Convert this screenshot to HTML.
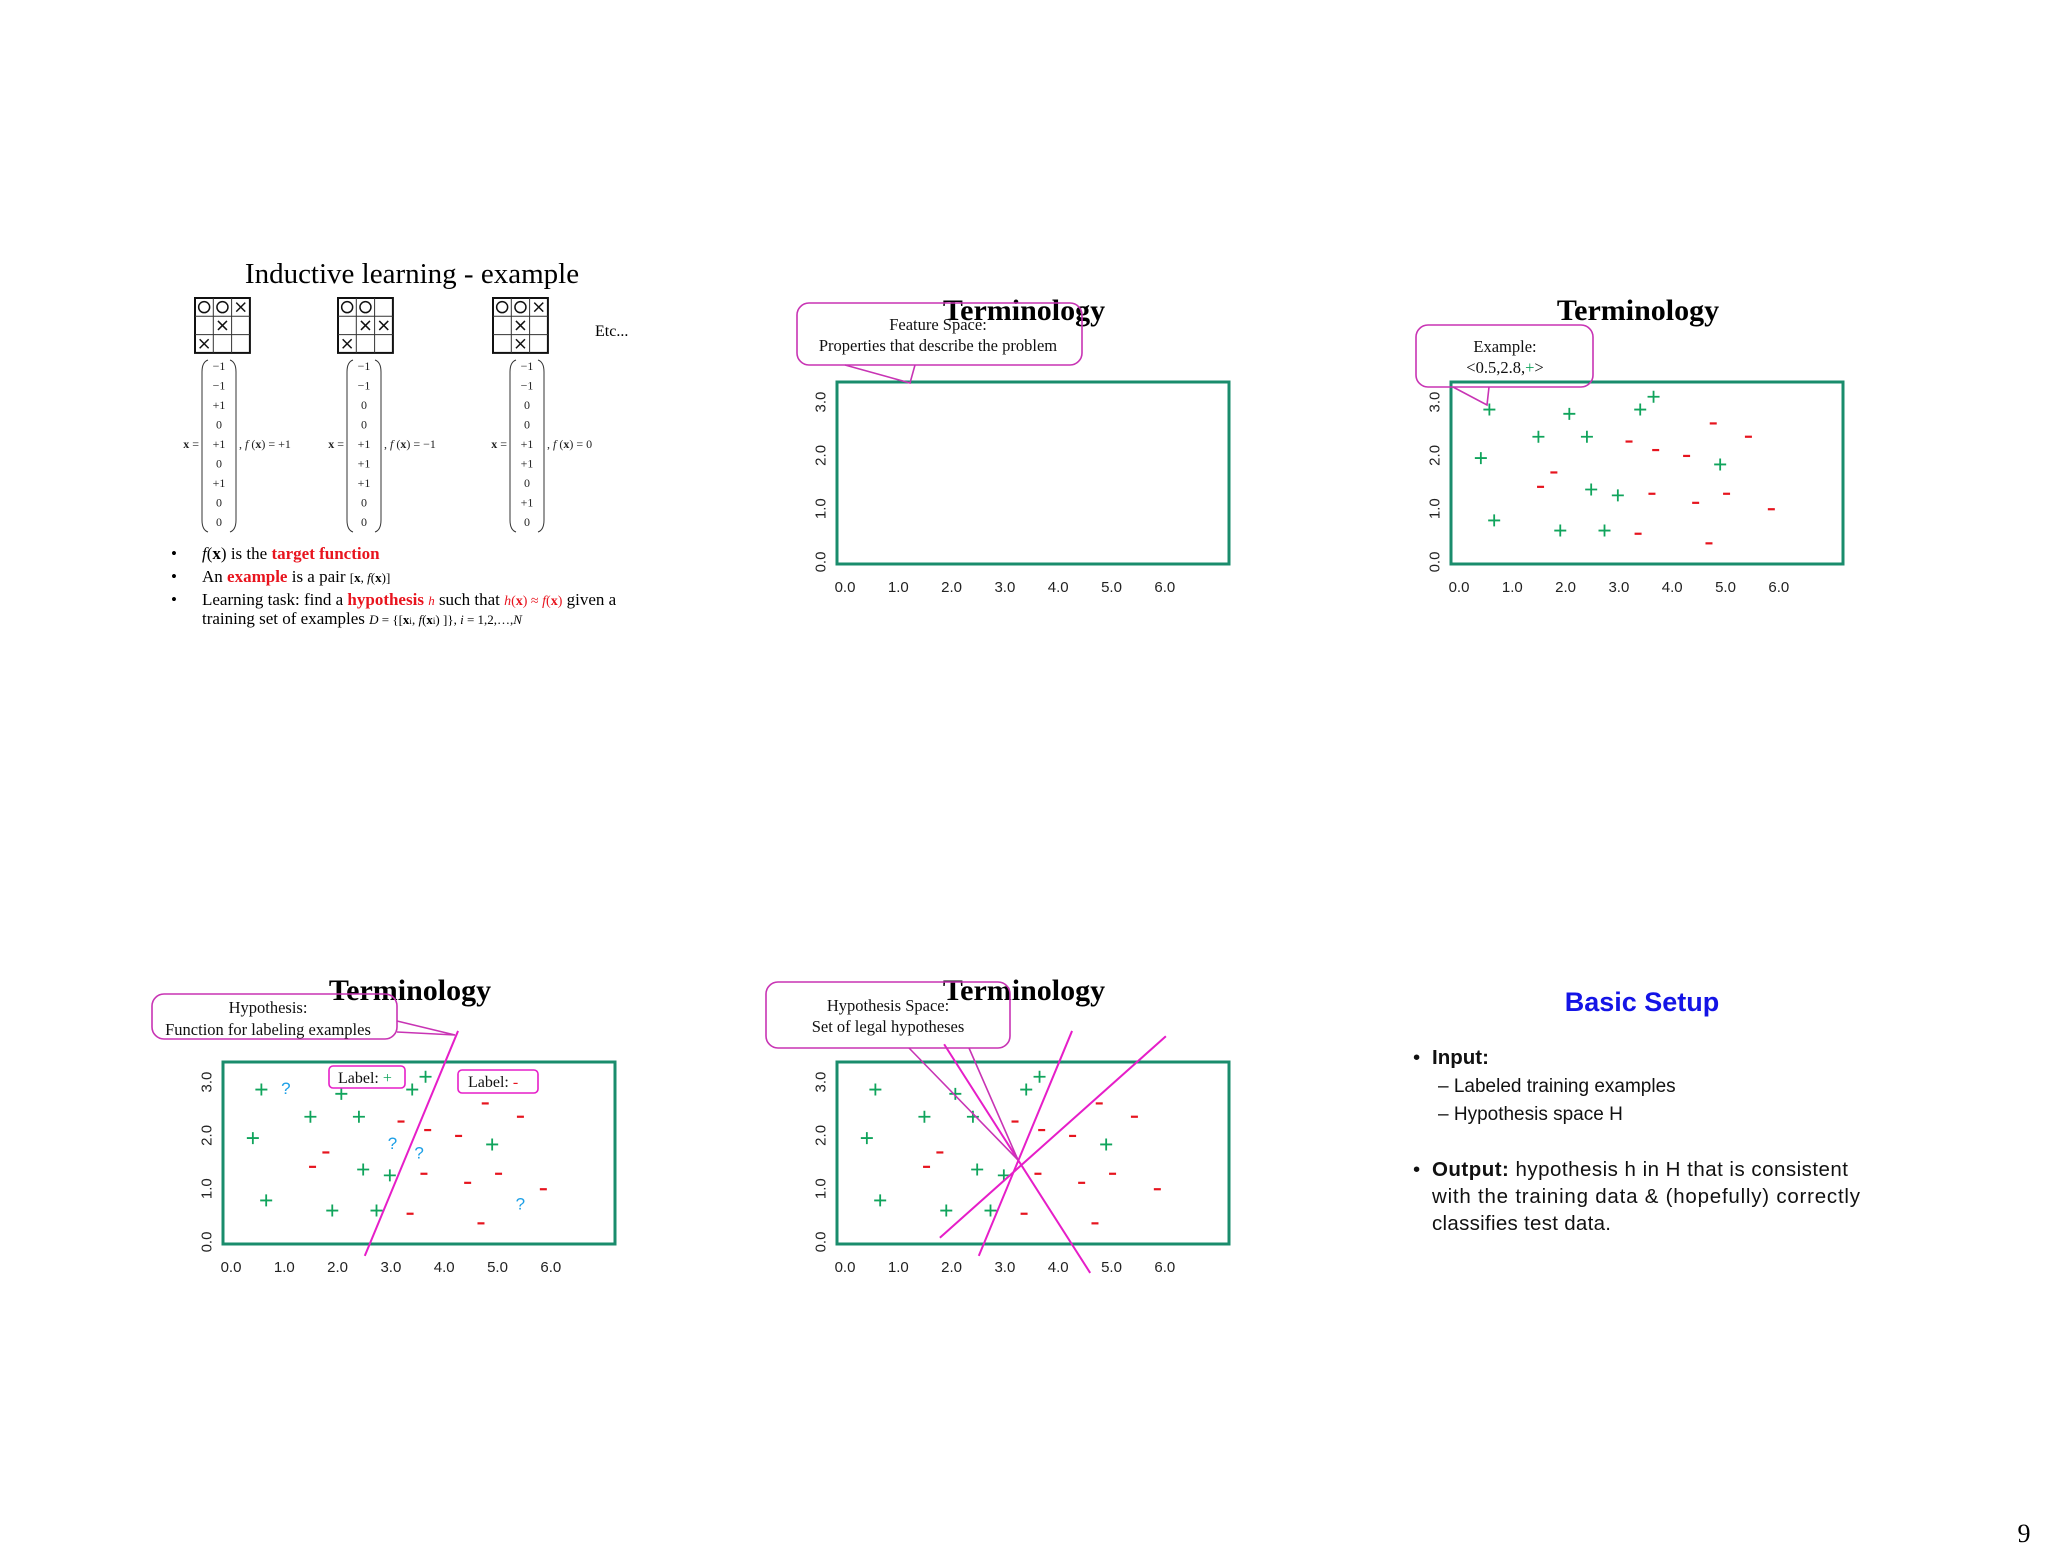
<!DOCTYPE html>
<html><head><meta charset="utf-8"><style>
html,body{margin:0;padding:0;background:#fff;}
svg{display:block;}
.tk{font-family:"Liberation Sans",sans-serif;font-size:15px;fill:#222;}
.ser{font-family:"Liberation Serif",serif;}
.ttl{font-family:"Liberation Serif",serif;font-weight:bold;font-size:30px;fill:#000;}
.cal{font-family:"Liberation Sans",sans-serif;}
</style></head><body>
<svg id="s" width="2048" height="1560" viewBox="0 0 2048 1560" xmlns="http://www.w3.org/2000/svg">
<rect width="2048" height="1560" fill="#fff"/>

<!-- Panel 1 -->
<g>
<text x="412" y="283" text-anchor="middle" class="ser" font-size="29">Inductive learning - example</text>
<g id="boards"></g>
<g id="vecs"></g>
<text x="595" y="336" class="ser" font-size="16">Etc...</text>
<g class="ser" font-size="17">
<text x="171" y="559">•</text><text x="202" y="559"><tspan font-style="italic">f</tspan>(<tspan font-weight="bold">x</tspan>) is the <tspan fill="#e8141e" font-weight="bold">target function</tspan></text>
<text x="171" y="582">•</text><text x="202" y="582">An <tspan fill="#e8141e" font-weight="bold">example</tspan> is a pair <tspan font-size="13">[<tspan font-weight="bold">x</tspan>, <tspan font-style="italic">f</tspan>(<tspan font-weight="bold">x</tspan>)]</tspan></text>
<text x="171" y="605">•</text><text x="202" y="605">Learning task: find a <tspan fill="#e8141e" font-weight="bold">hypothesis</tspan> <tspan fill="#e8141e" font-style="italic" font-size="13">h</tspan> such that <tspan fill="#e8141e" font-size="14"><tspan font-style="italic">h</tspan>(<tspan font-weight="bold">x</tspan>) ≈ <tspan font-style="italic">f</tspan>(<tspan font-weight="bold">x</tspan>)</tspan> given a</text>
<text x="202" y="624">training set of examples <tspan font-size="13"><tspan font-style="italic">D</tspan> = {[<tspan font-weight="bold">x</tspan><tspan font-size="9">i</tspan>, <tspan font-style="italic">f</tspan>(<tspan font-weight="bold">x</tspan><tspan font-size="9">i</tspan>) ]}, <tspan font-style="italic">i</tspan> = 1,2,…,<tspan font-style="italic">N</tspan></tspan></text>
</g>
</g>

<g id="plots"></g>

<!-- Panel 6 -->
<g class="cal">
<text x="1642" y="1011" text-anchor="middle" font-size="27" font-weight="bold" fill="#1414e6">Basic Setup</text>
<g font-size="20.5" fill="#111">
<text x="1413" y="1064">•</text><text x="1432" y="1064" font-weight="bold">Input:</text>
<text x="1438" y="1092" font-size="19">– Labeled training examples</text>
<text x="1438" y="1120" font-size="19">– Hypothesis space H</text>
<text x="1413" y="1176">•</text><text x="1432" y="1176" textLength="416"><tspan font-weight="bold">Output:</tspan> hypothesis h in H that is consistent</text>
<text x="1432" y="1203" textLength="428">with the training data &amp; (hopefully) correctly</text>
<text x="1432" y="1230" textLength="179">classifies test data.</text>
</g>
</g>
<text x="2024" y="1542" text-anchor="middle" class="ser" font-size="26">9</text>
</svg>
<script>
// ---- data ----
const plusX = [0.57,0.41,0.66,1.49,2.07,2.40,1.90,2.48,2.73,2.98,3.40,3.65,4.90];
const plusY = [2.86,1.95,0.78,2.35,2.78,2.35,0.59,1.36,0.59,1.25,2.86,3.10,1.83];
const minusX = [4.77,5.43,3.19,3.69,4.27,1.78,1.53,3.62,4.44,5.02,5.86,3.36,4.69];
const minusY = [2.60,2.35,2.26,2.10,1.99,1.68,1.41,1.28,1.11,1.28,0.99,0.53,0.35];
const queryX = [1.03,3.03,3.53,5.43];
const queryY = [2.89,1.86,1.68,0.72];
const xTicks = ["0.0","1.0","2.0","3.0","4.0","5.0","6.0"];
const yTicks = ["0.0","1.0","2.0","3.0"];
const hypX1 = [4.26,1.86,6.02];
const hypY1 = [3.96,3.71,3.86];
const hypX2 = [2.51,4.60,1.78];
const hypY2 = [-0.26,-0.58,0.08];
const boardCells = [["O","O","X","","X","","X","",""],["O","O","","","X","X","X","",""],["O","O","X","","X","","","X",""]];
const vecVals = [["−1","−1","+1","0","+1","0","+1","0","0"],["−1","−1","0","0","+1","+1","+1","0","0"],["−1","−1","0","0","+1","+1","0","+1","0"]];
const fVals = ["+1","−1","0"];

const NS="http://www.w3.org/2000/svg";
const svg=document.getElementById('s');
const plots=document.getElementById('plots');
function mk(tag,attrs,parent,text){const e=document.createElementNS(NS,tag);for(const k in attrs)e.setAttribute(k,attrs[k]);if(text!==undefined)e.textContent=text;(parent||svg).appendChild(e);return e;}
const U=53.3;
const MAG="#e61ec8";

function panel(x0,y0,opts){
  const g=mk('g',{},plots);
  
  
  const sx=v=>x0+v*U, sy=v=>y0-v*U;
  const box=mk('rect',{x:x0-8,y:y0-180,width:392,height:182,fill:'none',stroke:'#1a8c6c','stroke-width':3},g);
  
  
  xTicks.forEach((t,i)=>{const e=mk('text',{x:sx(i),y:y0+30,'text-anchor':'middle',class:'tk'},g,t);
    
    });
  yTicks.forEach((t,i)=>{const e=mk('text',{x:0,y:0,'text-anchor':'middle','dominant-baseline':'central',class:'tk',transform:`translate(${x0-24},${sy(i)}) rotate(-90)`},g,t);
    
    });
  if(opts.points){
    plusX.forEach((v,i)=>{const p=mk('path',{d:`M${sx(v)-6} ${sy(plusY[i])}h12M${sx(v)} ${sy(plusY[i])-6}v12`,stroke:'#10a45c','stroke-width':1.8},g);
      
      });
    minusX.forEach((v,i)=>{const p=mk('path',{d:`M${sx(v)-3.5} ${sy(minusY[i])}h7`,stroke:'#e6141e','stroke-width':2.2},g);
      
      });
  }
  if(opts.queries){
    queryX.forEach((v,i)=>{const e=mk('text',{x:sx(v),y:sy(queryY[i])+6,'text-anchor':'middle',class:'cal','font-size':17,fill:'#1ea0e6'},g,'?');
      
      });
  }
  if(opts.lines){
    opts.lines.forEach(i=>{const l=mk('line',{x1:sx(hypX1[i]),y1:sy(hypY1[i]),x2:sx(hypX2[i]),y2:sy(hypY2[i]),stroke:MAG,'stroke-width':2},g);
      
      });
  }
  const t=mk('text',{x:opts.tx,y:opts.ty,'text-anchor':'middle',class:'ttl'},g,'Terminology');
  
  
  return g;
}
function callout(g,x,y,w,h,tail,lines,cx,ys,name){
  const r=12;
  const c=mk('g',{},g);
  
  
  mk('rect',{x:x,y:y,width:w,height:h,rx:r,fill:'none',stroke:'#c834b4','stroke-width':1.6},c);
  mk('polyline',{points:tail,fill:'none',stroke:'#c834b4','stroke-width':1.6},c);
  lines.forEach((l,i)=>{mk('text',{x:cx,y:ys[i],'text-anchor':'middle',class:'ser','font-size':16.5,fill:'#111'},c,l);});
  return c;
}

// Panel 2
const p2=panel(845,562,{name:'feature-space-panel',tx:1024,ty:320});
callout(p2,797,303,285,62,"845,365 910,383 915,365",["Feature Space:","Properties that describe the problem"],938,[330,351],'feature-space-callout');
// Panel 3
const p3=panel(1459,562,{name:'example-panel',points:true,tx:1638,ty:320});
const c3=callout(p3,1416,325,177,62,"1453,387 1487,405 1489,387",["Example:",""],1505,[352,373],'example-callout');
const et=c3.querySelectorAll('text')[1];
et.innerHTML='&lt;0.5,2.8,<tspan fill="#10a45c">+</tspan>&gt;';
// Panel 4
const p4=panel(231,1242,{name:'hypothesis-panel',points:true,queries:true,lines:[0],tx:410,ty:1000});
callout(p4,152,994,245,45,"397,1021 455,1035 397,1032",["Hypothesis:","Function for labeling examples"],268,[1013,1035],'hypothesis-callout');
const l1=mk('g',{},p4);


mk('rect',{x:329,y:1066,width:76,height:22,rx:4,fill:'#fff',stroke:MAG,'stroke-width':1.6},l1);
const lt1=mk('text',{x:338,y:1083,class:'ser','font-size':16,fill:'#111'},l1,'');
lt1.innerHTML='Label: <tspan fill="#10a45c">+</tspan>';
const l2=mk('g',{},p4);


mk('rect',{x:458,y:1070,width:80,height:23,rx:4,fill:'#fff',stroke:MAG,'stroke-width':1.6},l2);
const lt2=mk('text',{x:468,y:1087,class:'ser','font-size':16,fill:'#111'},l2,'');
lt2.innerHTML='Label:  <tspan fill="#e6141e">-</tspan>';
// Panel 5
const p5=panel(845,1242,{name:'hypothesis-space-panel',points:true,lines:[0,1,2],tx:1024,ty:1000});
callout(p5,766,982,244,66,"909,1048 1018,1160 969,1048",["Hypothesis Space:","Set of legal hypotheses"],888,[1011,1032],'hypothesis-space-callout');

// Panel 1 boards
const bg=document.getElementById('boards');
[195,338,493].forEach((bx,b)=>{
  const g=mk('g',{},bg);
  
  
  const by=298,cs=18.3;
  mk('rect',{x:bx,y:by,width:cs*3,height:cs*3,fill:'#fff',stroke:'#111','stroke-width':2},g);
  for(let k=1;k<3;k++){mk('line',{x1:bx+k*cs,y1:by,x2:bx+k*cs,y2:by+3*cs,stroke:'#333','stroke-width':1},g);mk('line',{x1:bx,y1:by+k*cs,x2:bx+3*cs,y2:by+k*cs,stroke:'#333','stroke-width':1},g);}
  boardCells[b].forEach((c,i)=>{const cx=bx+(i%3+0.5)*cs,cy=by+(Math.floor(i/3)+0.5)*cs;
    if(c==='O')mk('circle',{cx:cx,cy:cy,r:5.5,fill:'none',stroke:'#111','stroke-width':1.5},g);
    if(c==='X')mk('path',{d:`M${cx-4.5} ${cy-4.5}L${cx+4.5} ${cy+4.5}M${cx+4.5} ${cy-4.5}L${cx-4.5} ${cy+4.5}`,stroke:'#111','stroke-width':1.5},g);});
});
// Panel 1 vectors
const vg=document.getElementById('vecs');
[219,364,527].forEach((vx,b)=>{
  const g=mk('g',{class:'ser','font-size':12,fill:'#222'},vg);
  
  
  vecVals[b].forEach((v,i)=>mk('text',{x:vx,y:370+i*19.5,'text-anchor':'middle'},g,v));
  mk('path',{d:`M${vx-11} 360 Q${vx-17} 362 ${vx-17} 372 V520 Q${vx-17} 530 ${vx-11} 532`,fill:'none',stroke:'#333','stroke-width':1},g);
  mk('path',{d:`M${vx+11} 360 Q${vx+17} 362 ${vx+17} 372 V520 Q${vx+17} 530 ${vx+11} 532`,fill:'none',stroke:'#333','stroke-width':1},g);
  const xl=mk('text',{x:vx-20,y:448,'text-anchor':'end'},g,'');
  xl.innerHTML='<tspan font-weight="bold">x</tspan> =';
  const fl=mk('text',{x:vx+20,y:448},g,'');
  fl.innerHTML=', <tspan font-style="italic">f</tspan> (<tspan font-weight="bold">x</tspan>) = '+fVals[b];
});
</script>
</body></html>
